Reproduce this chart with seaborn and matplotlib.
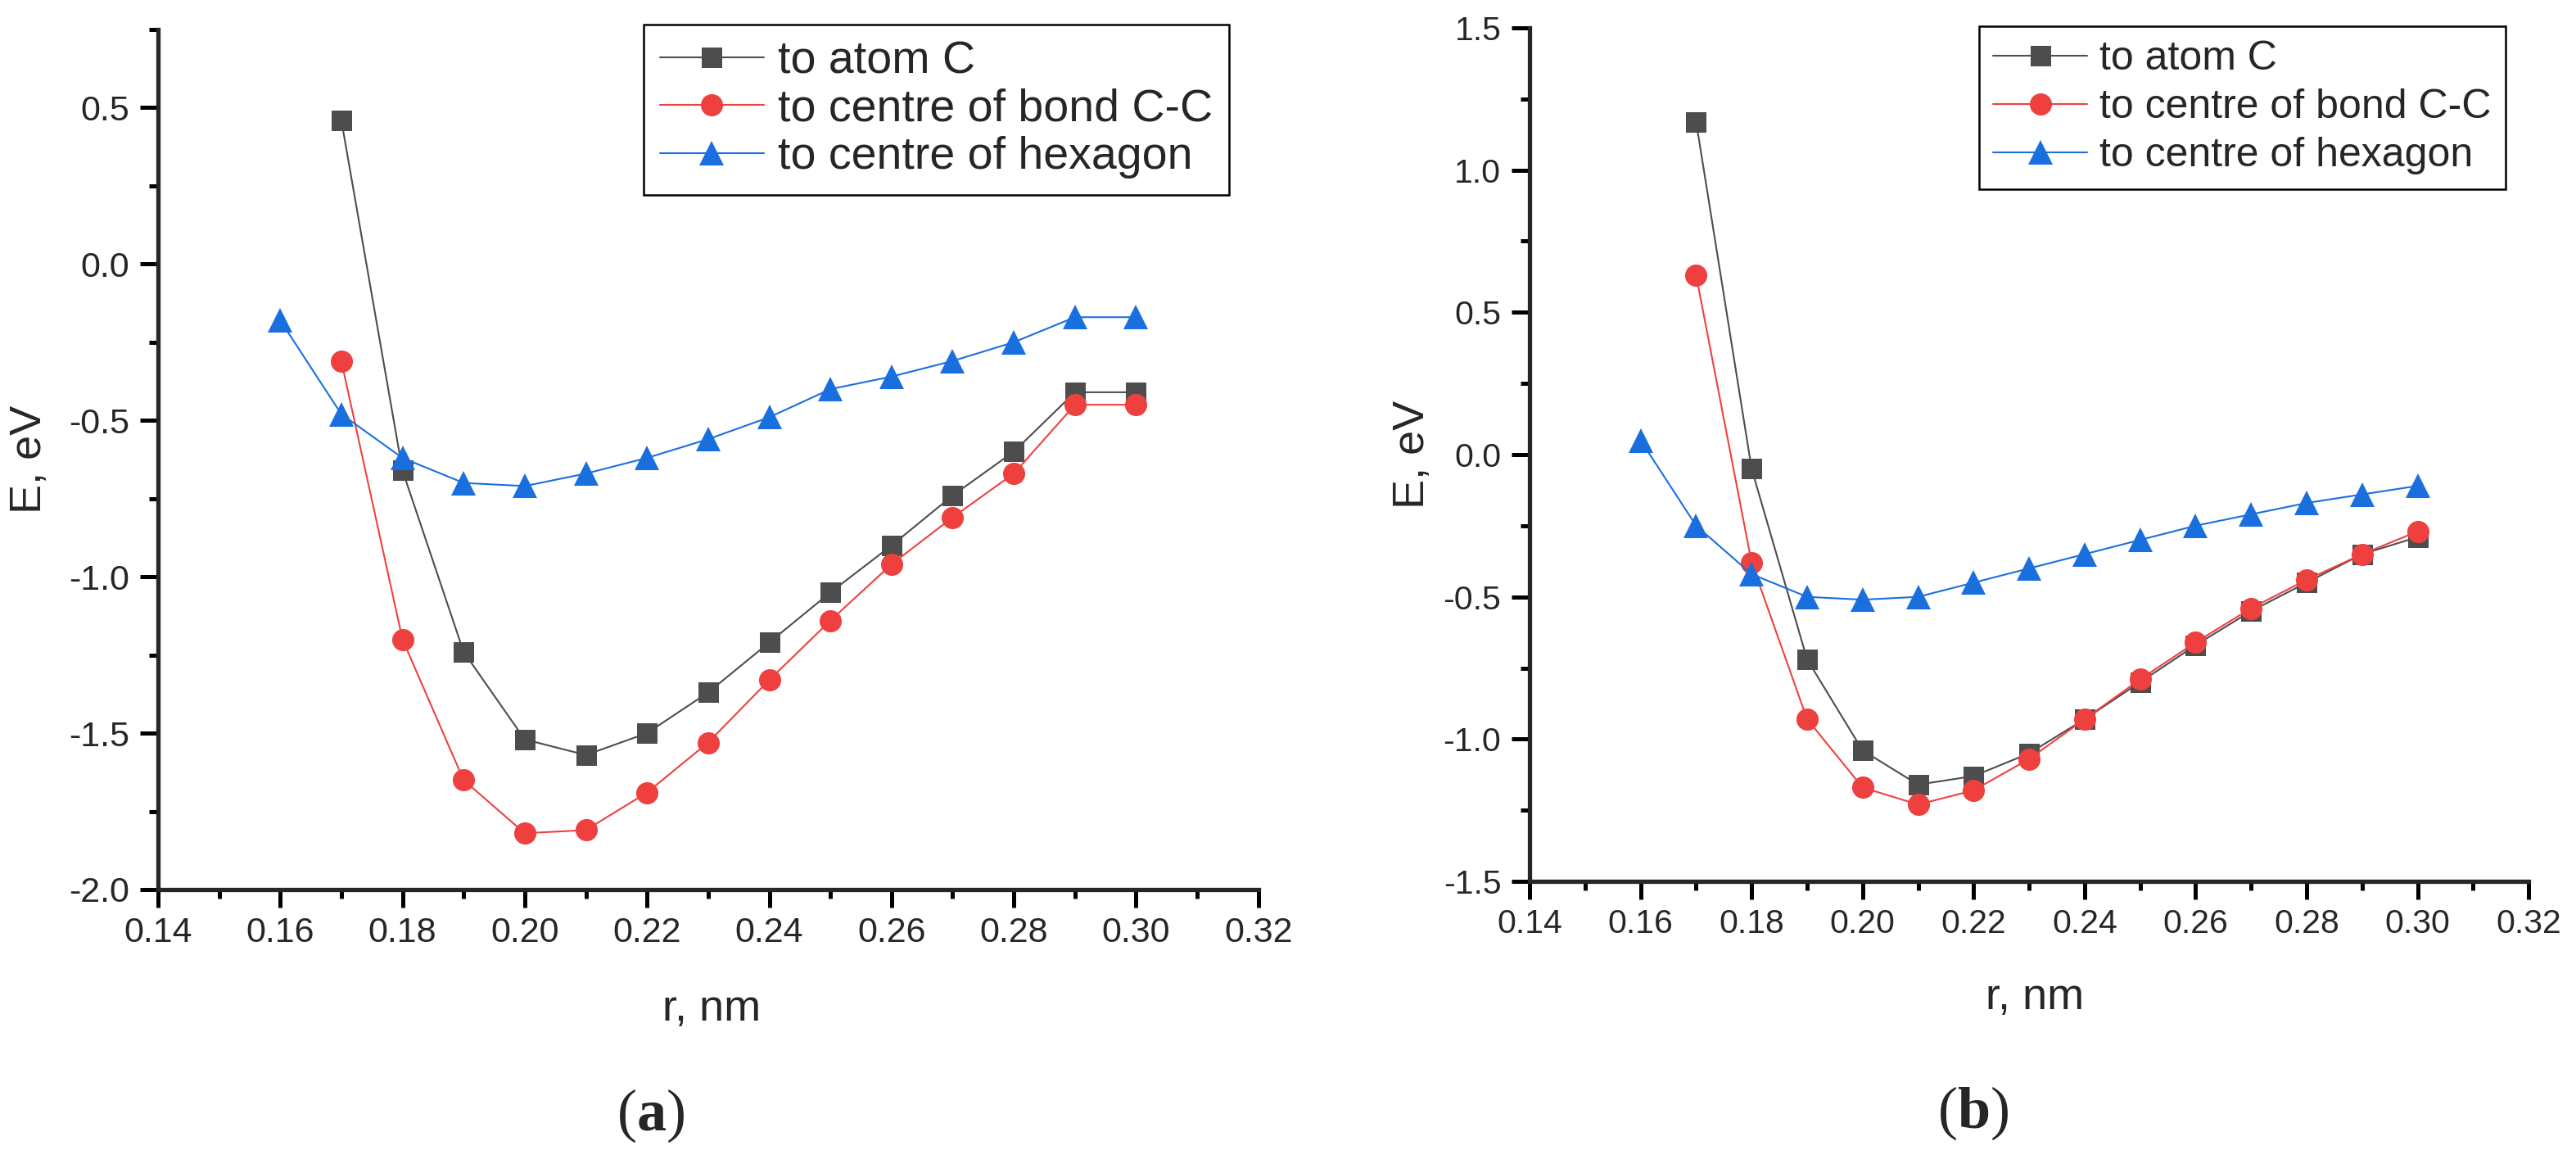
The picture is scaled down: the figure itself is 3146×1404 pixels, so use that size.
import pandas as pd
import numpy as np
import matplotlib
matplotlib.use("Agg")
import matplotlib.pyplot as plt
from matplotlib.ticker import MultipleLocator, FormatStrFormatter
import seaborn as sns

sns.set_style("ticks")
plt.rcParams.update({
    'font.family': ['Liberation Sans', 'DejaVu Sans'],
    'axes.unicode_minus': False,
    'mathtext.fontset': 'custom',
    'mathtext.rm': 'Liberation Serif',
    'mathtext.it': 'Liberation Serif:italic',
    'mathtext.bf': 'Liberation Serif:bold',
})

# series names and styles
labels = ['to atom C', 'to centre of bond C-C', 'to centre of hexagon']
colors = {'to atom C': '#4d4d4d', 'to centre of bond C-C': '#ef4040', 'to centre of hexagon': '#1a6fdf'}
markers = {'to atom C': 's', 'to centre of bond C-C': 'o', 'to centre of hexagon': '^'}
marker_sizes = {'s': 18, 'o': 19.5, '^': 22}

# distances, nm
r_atom = [0.17, 0.18, 0.19, 0.20, 0.21, 0.22, 0.23, 0.24, 0.25, 0.26, 0.27, 0.28, 0.29, 0.30]
r_bond = [0.17, 0.18, 0.19, 0.20, 0.21, 0.22, 0.23, 0.24, 0.25, 0.26, 0.27, 0.28, 0.29, 0.30]
r_hex = [0.16, 0.17, 0.18, 0.19, 0.20, 0.21, 0.22, 0.23, 0.24, 0.25, 0.26, 0.27, 0.28, 0.29, 0.30]

# panel (a), eV
e_a_atom = [0.46, -0.66, -1.24, -1.52, -1.57, -1.50, -1.37, -1.21, -1.05, -0.90, -0.74, -0.60, -0.41, -0.41]
e_a_bond = [-0.31, -1.20, -1.65, -1.82, -1.81, -1.69, -1.53, -1.33, -1.14, -0.96, -0.81, -0.67, -0.45, -0.45]
e_a_hex = [-0.18, -0.48, -0.62, -0.70, -0.71, -0.67, -0.62, -0.56, -0.49, -0.40, -0.36, -0.31, -0.25, -0.17, -0.17]

# panel (b), eV
e_b_atom = [1.17, -0.05, -0.72, -1.04, -1.16, -1.13, -1.05, -0.93, -0.80, -0.67, -0.55, -0.45, -0.35, -0.29]
e_b_bond = [0.63, -0.38, -0.93, -1.17, -1.23, -1.18, -1.07, -0.93, -0.79, -0.66, -0.54, -0.44, -0.35, -0.27]
e_b_hex = [0.05, -0.25, -0.42, -0.50, -0.51, -0.50, -0.45, -0.40, -0.35, -0.30, -0.25, -0.21, -0.17, -0.14, -0.11]


def make_df(e_atom, e_bond, e_hex):
    parts = [
        pd.DataFrame({'r': r_atom, 'E': e_atom, 'series': labels[0]}),
        pd.DataFrame({'r': r_bond, 'E': e_bond, 'series': labels[1]}),
        pd.DataFrame({'r': r_hex, 'E': e_hex, 'series': labels[2]}),
    ]
    return pd.concat(parts, ignore_index=True)


def draw_panel(ax, df, ylim, tick_fs, label_fs, legend_fs, label_spacing, legend_anchor,
               ylabel_x, xlabel_pos):
    sns.lineplot(data=df, x='r', y='E', hue='series', style='series', hue_order=labels,
                 style_order=labels, palette=colors, markers=markers, dashes=False,
                 estimator=None, errorbar=None, linewidth=1.5, markeredgewidth=0,
                 legend=False, ax=ax)
    for line in ax.lines:
        line.set_markersize(marker_sizes[line.get_marker()])

    ax.set_xlim(0.14, 0.32)
    ax.set_ylim(*ylim)
    ax.xaxis.set_major_locator(MultipleLocator(0.02))
    ax.xaxis.set_minor_locator(MultipleLocator(0.01))
    ax.yaxis.set_major_locator(MultipleLocator(0.5))
    ax.yaxis.set_minor_locator(MultipleLocator(0.25))
    ax.xaxis.set_major_formatter(FormatStrFormatter('%.2f'))
    ax.yaxis.set_major_formatter(FormatStrFormatter('%.1f'))

    sns.despine(ax=ax)
    for side in ['left', 'bottom']:
        ax.spines[side].set_linewidth(3.8)
    ax.tick_params(which='major', direction='out', length=16, width=3.6, labelsize=tick_fs, color='black')
    ax.tick_params(which='minor', direction='out', length=8, width=3.6, color='black')
    ax.tick_params(axis='x', which='major', pad=8)
    ax.tick_params(axis='y', which='major', pad=9)

    ax.set_xlabel('r, nm', fontsize=label_fs)
    ax.set_ylabel('E, eV', fontsize=label_fs)
    ax.xaxis.set_label_coords(*xlabel_pos)
    ax.xaxis.label.set_verticalalignment('baseline')
    ax.yaxis.set_label_coords(ylabel_x, 0.5)

    order = {'s': 0, 'o': 1, '^': 2}
    handles = sorted(ax.lines, key=lambda l: order[l.get_marker()])
    leg = ax.legend(handles, labels, loc='upper right', bbox_to_anchor=legend_anchor,
                    bbox_transform=ax.transAxes, fontsize=legend_fs, frameon=True,
                    fancybox=False, framealpha=1, edgecolor='black', borderaxespad=0,
                    borderpad=0.35, handlelength=2.3, handletextpad=0.3,
                    labelspacing=label_spacing)
    leg.get_frame().set_linewidth(1.8)


fig = plt.figure(figsize=(31.46, 14.04), dpi=100)
ax_a = fig.add_axes([0.0613, 0.2265, 0.4272, 0.7479])
ax_b = fig.add_axes([0.5938, 0.2336, 0.3878, 0.7422])

draw_panel(ax_a, make_df(e_a_atom, e_a_bond, e_a_hex), (-2.0, 0.75),
           tick_fs=31, label_fs=39, legend_fs=40, label_spacing=0.12,
           legend_anchor=(0.973, 1.006), ylabel_x=-0.098, xlabel_pos=(0.503, -0.152))
draw_panel(ax_b, make_df(e_b_atom, e_b_bond, e_b_hex), (-1.5, 1.5),
           tick_fs=29.5, label_fs=39, legend_fs=36, label_spacing=0.26,
           legend_anchor=(0.977, 1.002), ylabel_x=-0.097, xlabel_pos=(0.506, -0.150))

fig.text(0.2524, 0.0171, r'$\mathrm{(}\mathbf{a}\mathrm{)}$', fontsize=52, ha='center', va='baseline')
fig.text(0.766, 0.0192, r'$\mathrm{(}\mathbf{b}\mathrm{)}$', fontsize=52, ha='center', va='baseline')

fig.savefig('out.png', dpi=100, facecolor='white')
plt.close(fig)
